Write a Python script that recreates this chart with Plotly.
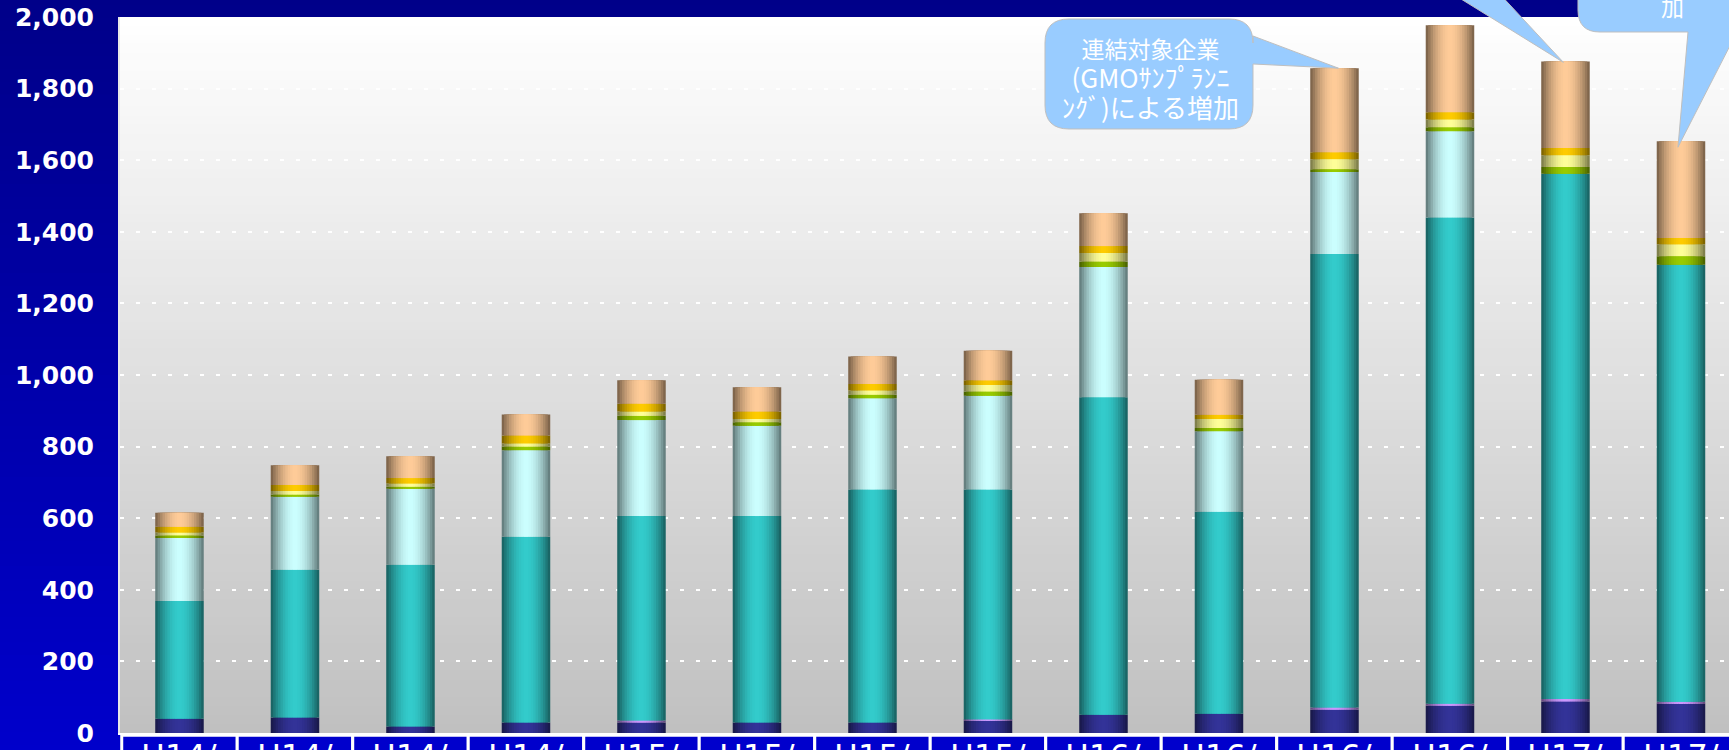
import plotly.graph_objects as go

# ---------------------------------------------------------------- data
periods = ["H14/3", "H14/6", "H14/9", "H14/12",
           "H15/3", "H15/6", "H15/9", "H15/12",
           "H16/3", "H16/6", "H16/9", "H16/12",
           "H17/3", "H17/6"]

# stacked components, listed bottom to top
navy   = [40, 43, 18, 29, 29, 29, 29, 34, 51, 54, 65, 76, 88, 82]
violet = [0, 0, 0, 0, 6, 0, 0, 4, 0, 0, 6, 6, 7, 5]
teal   = [329, 413, 452, 519, 571, 577, 651, 642, 887, 564, 1267, 1358, 1467, 1221]
aqua   = [176, 204, 212, 242, 268, 252, 255, 262, 364, 225, 229, 241, 0, 0]
green  = [7, 6, 6, 10, 12, 10, 10, 12, 15, 9, 8, 11, 19, 24]
yellow = [8, 10, 9, 9, 12, 9, 12, 18, 24, 25, 28, 22, 33, 33]
gold   = [16, 17, 15, 22, 22, 21, 18, 13, 19, 12, 19, 20, 20, 18]
peach  = [39, 55, 61, 59, 65, 68, 77, 83, 92, 98, 235, 243, 242, 270]

y_ticks = list(range(0, 2001, 200))

callout_lines = ["連結対象企業", "(GMOｻﾝﾌﾟﾗﾝﾆ", "ﾝｸﾞ)による増加"]
callout_tail_text = "加"

# ---------------------------------------------------------------- styling
segments = [
    (navy,   "#333399"),
    (violet, "#CC99FF"),
    (teal,   "#33CCCC"),
    (aqua,   "#CCFFFF"),
    (green,  "#99CC00"),
    (yellow, "#FFFF99"),
    (gold,   "#FFCC00"),
    (peach,  "#FFCC99"),
]

FIG_W, FIG_H = 1729, 750
M_L, M_R, M_T, M_B = 120, 0, 17, 17
PLOT_W = FIG_W - M_L - M_R
PLOT_H = FIG_H - M_T - M_B
X_RANGE = [-0.515, -0.515 + PLOT_W / 115.5]
Y_RANGE = [0, 2000]
BAR_W = 0.42
N_SHADES = 10


def hex_rgb(h):
    h = h.lstrip("#")
    return tuple(int(h[i:i + 2], 16) for i in (0, 2, 4))


def shade(hex_color, t):
    """Blend from the half-dark edge tone (t=0) to the full colour (t=1)."""
    r, g, b = hex_rgb(hex_color)
    f = 0.5 + 0.5 * t
    return "rgb({:.0f},{:.0f},{:.0f})".format(r * f, g * f, b * f)


def lerp_color(c0, c1, t):
    a, b = hex_rgb(c0), hex_rgb(c1)
    return "rgb({:.0f},{:.0f},{:.0f})".format(*[a[i] + (b[i] - a[i]) * t for i in range(3)])


# cumulative bases for each stacked component
bases = []
running = [0] * len(periods)
for vals, _ in segments:
    bases.append(list(running))
    running = [r + v for r, v in zip(running, vals)]
totals = running

fig = go.Figure()

# cylinder look: nested bars, each narrower and lighter than the one beneath
for k in range(N_SHADES):
    frac = 1 - k / N_SHADES
    t = 1 - frac ** 2
    for (vals, col), base in zip(segments, bases):
        fig.add_trace(go.Bar(
            x=list(range(len(periods))), y=vals, base=base,
            width=BAR_W * frac,
            marker=dict(color=shade(col, t), line=dict(width=0)),
            hoverinfo="skip", showlegend=False,
        ))

# ---------------------------------------------------------------- backdrop
shapes = []
n_bg = 60
y_lo, y_hi = -M_B / PLOT_H - 0.01, 1 + M_T / PLOT_H + 0.01
for i in range(n_bg):
    a = y_lo + (y_hi - y_lo) * i / n_bg
    b = y_lo + (y_hi - y_lo) * (i + 1) / n_bg
    tt = 1 - (i + 0.5) / n_bg
    shapes.append(dict(type="rect", xref="paper", yref="paper", layer="below",
                       x0=-0.2, x1=1.2, y0=a, y1=b + 0.002,
                       fillcolor=lerp_color("#0000CC", "#000088", 1 - tt), line=dict(width=0)))
n_pl = 80
for i in range(n_pl):
    a = i / n_pl
    b = (i + 1) / n_pl
    tt = (i + 0.5) / n_pl
    shapes.append(dict(type="rect", xref="paper", yref="paper", layer="below",
                       x0=0, x1=1, y0=a, y1=min(1, b + 0.002),
                       fillcolor=lerp_color("#C0C0C0", "#FFFFFF", tt), line=dict(width=0)))

# category label boxes under the axis
for i in range(len(periods)):
    shapes.append(dict(type="rect", xref="x", yref="paper", layer="above",
                       x0=i - 0.5, x1=i + 0.5, y0=-0.1, y1=-0.003,
                       fillcolor="#0000CC", line=dict(color="white", width=3)))


# ---------------------------------------------------------------- callouts
def px_x(x):
    return (x - M_L) / PLOT_W


def px_y(y):
    return (M_T + PLOT_H - y) / PLOT_H


def data_px(idx, val):
    x = M_L + (idx - X_RANGE[0]) / (X_RANGE[1] - X_RANGE[0]) * PLOT_W
    y = M_T + PLOT_H - (val - Y_RANGE[0]) / (Y_RANGE[1] - Y_RANGE[0]) * PLOT_H
    return x, y


def path_from(cmds):
    out = []
    for c in cmds:
        op, pts = c[0], c[1:]
        coords = " ".join("{:.5f},{:.5f}".format(px_x(x), px_y(y)) for x, y in pts)
        out.append(op + " " + coords if pts else op)
    return " ".join(out)


bubble_style = dict(type="path", xref="paper", yref="paper", layer="above",
                    fillcolor="#99CCFF", line=dict(color="#BFBFBF", width=1))

# bubble pointing at the H16/9 bar
tx, ty = data_px(10, totals[10])
tip1 = (tx + 4, ty)
x0, x1, y0, y1, r = 1045, 1253, 19, 129, 24
shapes.append(dict(bubble_style, path=path_from([
    ("M", (x0 + r, y0)), ("L", (x1 - r, y0)), ("Q", (x1, y0), (x1, y0 + r)),
    ("L", (x1, 36)), ("L", tip1), ("L", (x1, 64)),
    ("L", (x1, y1 - r)), ("Q", (x1, y1), (x1 - r, y1)),
    ("L", (x0 + r, y1)), ("Q", (x0, y1), (x0, y1 - r)),
    ("L", (x0, y0 + r)), ("Q", (x0, y0), (x0 + r, y0)), ("Z",),
])))

# pointer coming down to the H17/3 bar
tx, ty = data_px(12, totals[12])
tip2 = (tx - 2, ty + 1)
shapes.append(dict(bubble_style, path=path_from([
    ("M", (1398, -40)), ("L", (1468, -40)), ("L", tip2), ("Z",),
])))

# bubble pointing at the H17/6 bar
tx, ty = data_px(13, totals[13])
tip3 = (tx - 3, ty + 6)
x0, x1, y0, y1, r = 1578, 1800, -60, 32, 22
shapes.append(dict(bubble_style, path=path_from([
    ("M", (x0, y0)), ("L", (x1, y0)), ("L", (x1, y1)),
    ("L", (1737, y1)), ("L", tip3), ("L", (1688, y1)),
    ("L", (x0 + r, y1)), ("Q", (x0, y1), (x0, y1 - r)), ("Z",),
])))

callout_html = "<br>".join([
    callout_lines[0],
    "<span style='font-size:26px'>{}</span>".format(callout_lines[1]),
    "<span style='font-size:26px'>{}</span>".format(callout_lines[2]),
])

annotations = [
    dict(xref="paper", yref="paper", x=px_x(1150), y=px_y(78),
         xanchor="center", yanchor="middle", showarrow=False,
         text=callout_html, align="center",
         font=dict(family="Noto Sans CJK JP", size=23, color="white")),
    dict(xref="paper", yref="paper", x=px_x(1672), y=px_y(6),
         xanchor="center", yanchor="middle", showarrow=False,
         text=callout_tail_text,
         font=dict(family="Noto Sans CJK JP", size=23, color="white")),
]
for i, p in enumerate(periods):
    annotations.append(dict(
        xref="x", yref="paper", x=i, y=0, yanchor="top", xanchor="center",
        yshift=-2, showarrow=False, text=p.replace("/", "/<br>"),
        font=dict(family="DejaVu Sans", size=32, color="white"),
    ))

fig.update_layout(
    width=FIG_W, height=FIG_H,
    margin=dict(l=M_L, r=M_R, t=M_T, b=M_B, pad=0),
    barmode="overlay",
    paper_bgcolor="#0000AA",
    plot_bgcolor="rgba(0,0,0,0)",
    shapes=shapes,
    annotations=annotations,
    xaxis=dict(range=X_RANGE, showgrid=False, zeroline=False,
               showticklabels=False, ticks="",
               showline=True, linecolor="white", linewidth=2),
    yaxis=dict(range=Y_RANGE, tickvals=y_ticks,
               ticktext=["{:,}".format(v) for v in y_ticks],
               tickfont=dict(family="DejaVu Sans", size=25, color="white", weight="bold"),
               ticks="", ticklabelstandoff=19,
               showgrid=True, gridcolor="white", gridwidth=1.5, griddash="4px,12px",
               zeroline=False, showline=True, linecolor="#E8E8E8", linewidth=2),
)

fig.write_html("out.html")
